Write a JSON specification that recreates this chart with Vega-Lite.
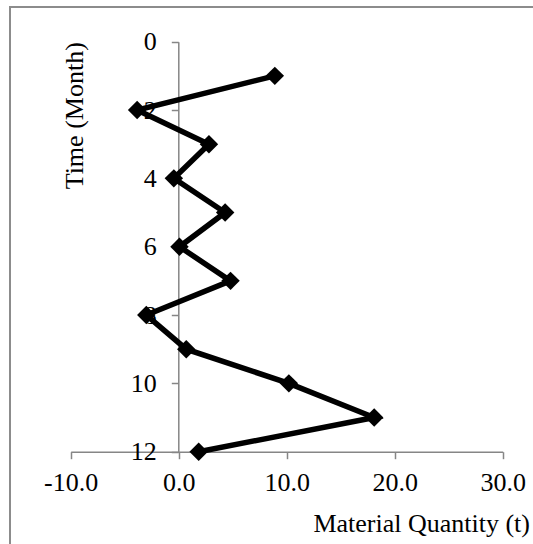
{
  "$schema": "https://vega.github.io/schema/vega-lite/v6.json",
  "width": 525,
  "height": 539,
  "autosize": "none",
  "padding": {"left": 10, "top": 7, "right": 0, "bottom": 0},
  "background": "white",
  "config": {
    "view": {"stroke": "#8c8c8c", "strokeWidth": 2},
    "font": "Liberation Serif"
  },
  "data": {
    "values": [
      {"month": 1, "quantity": 8.9},
      {"month": 2, "quantity": -3.85},
      {"month": 3, "quantity": 2.8},
      {"month": 4, "quantity": -0.45},
      {"month": 5, "quantity": 4.3},
      {"month": 6, "quantity": 0.07},
      {"month": 7, "quantity": 4.8},
      {"month": 8, "quantity": -3.0},
      {"month": 9, "quantity": 0.7},
      {"month": 10, "quantity": 10.2},
      {"month": 11, "quantity": 18.1},
      {"month": 12, "quantity": 1.85}
    ]
  },
  "encoding": {
    "x": {
      "field": "quantity",
      "type": "quantitative",
      "scale": {"domain": [-10, 30], "range": [60.7, 492.7], "nice": false, "zero": false},
      "axis": {
        "orient": "bottom",
        "offset": -94.3,
        "values": [-10, 0, 10, 20, 30],
        "format": ".1f",
        "labelExpr": "replace(datum.label, '\u2212', '-')",
        "grid": false,
        "domainColor": "#868686",
        "domainWidth": 1.5,
        "tickColor": "#868686",
        "tickWidth": 1.5,
        "tickSize": 7,
        "labelFont": "Liberation Serif",
        "labelFontSize": 26,
        "labelColor": "black",
        "labelPadding": 11,
        "labelFlush": false,
        "labelOverlap": false,
        "labelBound": false,
        "title": "Material Quantity (t)",
        "titleFont": "Liberation Serif",
        "titleFontSize": 26,
        "titleFontWeight": "normal",
        "titleColor": "black",
        "titleAlign": "right",
        "titleBaseline": "alphabetic",
        "titleX": 519.5,
        "titleY": 80
      }
    },
    "y": {
      "field": "month",
      "type": "quantitative",
      "scale": {"domain": [0, 12], "range": [34.7, 444.7], "nice": false, "zero": false},
      "axis": {
        "orient": "left",
        "offset": -168.3,
        "values": [0, 2, 4, 6, 8, 10, 12],
        "grid": false,
        "domainColor": "#868686",
        "domainWidth": 1.5,
        "tickColor": "#868686",
        "tickWidth": 1.5,
        "tickSize": 7,
        "labelFont": "Liberation Serif",
        "labelFontSize": 26,
        "labelColor": "black",
        "labelPadding": 15,
        "labelAlign": "right",
        "labelBaseline": "middle",
        "labelFlush": false,
        "labelOverlap": false,
        "labelBound": false,
        "title": "Time (Month)",
        "titleFont": "Liberation Serif",
        "titleFontSize": 26,
        "titleFontWeight": "normal",
        "titleColor": "black",
        "titleAngle": -90,
        "titleAlign": "right",
        "titleBaseline": "alphabetic",
        "titleX": -95.5,
        "titleY": 34.7
      }
    },
    "order": {"field": "month", "type": "quantitative"}
  },
  "layer": [
    {"mark": {"type": "line", "color": "black", "strokeWidth": 5.5, "strokeJoin": "miter"}},
    {"mark": {"type": "point", "shape": "diamond", "filled": true, "color": "black", "size": 340, "opacity": 1}}
  ]
}
